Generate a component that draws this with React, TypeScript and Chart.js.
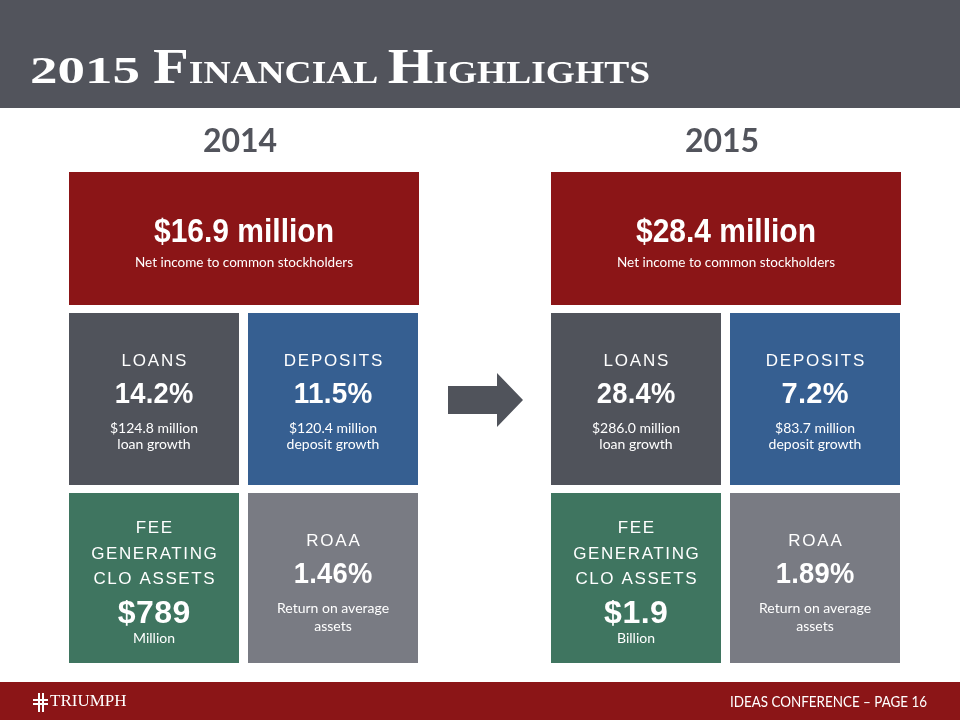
import React, { useEffect, useRef } from "react";
import { Chart, registerables } from "chart.js";

Chart.register(...registerables);

// ---------- data ----------
const titleText = ["2015", "Financial", "Highlights"];
const years = ["2014", "2015"];
const netIncome = ["$16.9 million", "$28.4 million"];
const netIncomeLabel = "Net income to common stockholders";
const loanPct = ["14.2%", "28.4%"];
const loanAmt = ["$124.8 million", "$286.0 million"];
const loanLabel = "loan growth";
const depositPct = ["11.5%", "7.2%"];
const depositAmt = ["$120.4 million", "$83.7 million"];
const depositLabel = "deposit growth";
const cloHeading = ["FEE", "GENERATING", "CLO ASSETS"];
const cloValue = ["$789", "$1.9"];
const cloUnit = ["Million", "Billion"];
const roaaValue = ["1.46%", "1.89%"];
const roaaLabel = ["Return on average", "assets"];
const footerText = "IDEAS CONFERENCE \u2013 PAGE 16";
const brandText = "TRIUMPH";

// ---------- styles ----------
const C = {
  header: "#52545c",
  red: "#8b1517",
  dark: "#50535b",
  blue: "#365f91",
  green: "#3f7560",
  gray: "#797b83",
  yearText: "#52545c",
  white: "#ffffff",
};
const SANS = "'Liberation Sans', Arial, sans-serif";
const CAL = "Lato, 'Open Sans', sans-serif";
const SERIF = "'Liberation Serif', 'DejaVu Serif', serif";

function text(
  ctx: CanvasRenderingContext2D,
  s: string,
  x: number,
  y: number,
  font: string,
  color: string,
  align: CanvasTextAlign = "center",
  spacing = 0,
  maxWidth?: number
) {
  ctx.save();
  ctx.font = font;
  ctx.fillStyle = color;
  ctx.textAlign = align;
  ctx.textBaseline = "alphabetic";
  (ctx as any).letterSpacing = spacing + "px";
  const xx = align === "center" ? x + spacing / 2 : x;
  if (maxWidth) {
    const w = ctx.measureText(s).width;
    if (w > maxWidth) {
      ctx.translate(xx, y);
      ctx.scale(maxWidth / w, 1);
      ctx.fillText(s, 0, 0);
      ctx.restore();
      return;
    }
  }
  ctx.fillText(s, xx, y);
  ctx.restore();
}

// draws a run of [text, font] segments, scaled to a target width
function run(
  ctx: CanvasRenderingContext2D,
  segs: [string, string][],
  x: number,
  y: number,
  width: number,
  color: string
) {
  ctx.save();
  ctx.fillStyle = color;
  ctx.textBaseline = "alphabetic";
  ctx.textAlign = "left";
  let total = 0;
  const ws = segs.map(([s, f]) => {
    ctx.font = f;
    const w = ctx.measureText(s).width;
    total += w;
    return w;
  });
  ctx.translate(x, y);
  ctx.scale(width / total, 1);
  let cx = 0;
  segs.forEach(([s, f], i) => {
    ctx.font = f;
    ctx.fillText(s, cx, 0);
    cx += ws[i];
  });
  ctx.restore();
}

function smallCaps(word: string, big: string, small: string): [string, string][] {
  return [
    [word[0].toUpperCase(), big],
    [word.slice(1).toUpperCase(), small],
  ];
}

const slidePlugin = {
  id: "slide",
  beforeDraw(chart: any) {
    const ctx: CanvasRenderingContext2D = chart.ctx;
    const W = chart.width;
    const H = chart.height;
    ctx.save();
    ctx.fillStyle = "#ffffff";
    ctx.fillRect(0, 0, W, H);

    // header band
    ctx.fillStyle = C.header;
    ctx.fillRect(0, 0, W, 108);
    const big = `bold 50px ${SERIF}`;
    const small = `bold 32px ${SERIF}`;
    run(ctx, [[titleText[0], `bold 38px ${SERIF}`]], 30, 83, 110, C.white);
    run(
      ctx,
      [
        ...smallCaps(titleText[1], big, small),
        [" ", small],
        ...smallCaps(titleText[2], big, small),
      ],
      153,
      83,
      497,
      C.white
    );

    // footer band
    ctx.fillStyle = C.red;
    ctx.fillRect(0, 682, W, H - 682);
    text(ctx, footerText, 927, 707, `15px ${CAL}`, C.white, "right", 0, 197);
    text(ctx, brandText, 50, 706, `17px ${SERIF}`, C.white, "left", 0, 78);
    // logo mark
    ctx.fillStyle = C.white;
    ctx.fillRect(38, 693, 2, 19);
    ctx.fillRect(42, 693, 2, 19);
    ctx.fillRect(33, 699, 15, 2);
    ctx.fillRect(33, 703, 15, 2);
    ctx.fillStyle = C.red;
    ctx.fillRect(40, 701, 2, 2);

    // arrow
    ctx.fillStyle = C.dark;
    ctx.beginPath();
    ctx.moveTo(448, 386);
    ctx.lineTo(497, 386);
    ctx.lineTo(497, 373);
    ctx.lineTo(523, 400);
    ctx.lineTo(497, 427);
    ctx.lineTo(497, 414);
    ctx.lineTo(448, 414);
    ctx.closePath();
    ctx.fill();

    // year groups
    const groupX = [69, 551];
    years.forEach((yr, i) => {
      const gx = groupX[i];
      const fullW = 350;
      const halfW = 170;
      const gap = 9;
      const cx = gx + fullW / 2;
      text(ctx, yr, cx - 4, 152, `bold 32px ${CAL}`, C.yearText);

      // top tile
      ctx.fillStyle = C.red;
      ctx.fillRect(gx, 172, fullW, 133);
      text(ctx, netIncome[i], cx, 242, `bold 33px ${SANS}`, C.white, "center", 0, 180);
      text(ctx, netIncomeLabel, cx, 267, `13.5px ${CAL}`, C.white, "center", 0, 222);

      const lx = gx;
      const rx = gx + halfW + gap;
      const lc = lx + halfW / 2;
      const rc = rx + halfW / 2;

      // middle row
      const my = 313;
      ctx.fillStyle = C.dark;
      ctx.fillRect(lx, my, halfW, 172);
      ctx.fillStyle = C.blue;
      ctx.fillRect(rx, my, halfW, 172);
      text(ctx, "LOANS", lc, my + 53, `17px ${SANS}`, C.white, "center", 1.8);
      text(ctx, loanPct[i], lc, my + 90, `bold 29px ${SANS}`, C.white, "center", 0.3, 79);
      text(ctx, loanAmt[i], lc, my + 120, `14px ${CAL}`, C.white);
      text(ctx, loanLabel, lc, my + 136, `14px ${CAL}`, C.white);
      text(ctx, "DEPOSITS", rc, my + 53, `17px ${SANS}`, C.white, "center", 1.8);
      text(ctx, depositPct[i], rc, my + 90, `bold 29px ${SANS}`, C.white, "center", 0.3, 79);
      text(ctx, depositAmt[i], rc, my + 120, `14px ${CAL}`, C.white);
      text(ctx, depositLabel, rc, my + 136, `14px ${CAL}`, C.white);

      // bottom row
      const by = 493;
      ctx.fillStyle = C.green;
      ctx.fillRect(lx, by, halfW, 170);
      ctx.fillStyle = C.gray;
      ctx.fillRect(rx, by, halfW, 170);
      cloHeading.forEach((h, k) => {
        text(ctx, h, lc, by + 40 + k * 25.5, `17px ${SANS}`, C.white, "center", 1.6);
      });
      text(ctx, cloValue[i], lc, by + 130, `bold 32px ${SANS}`, C.white, "center", 0.5);
      text(ctx, cloUnit[i], lc, by + 150, `14px ${CAL}`, C.white);
      text(ctx, "ROAA", rc, by + 53, `17px ${SANS}`, C.white, "center", 1.8);
      text(ctx, roaaValue[i], rc, by + 90, `bold 29px ${SANS}`, C.white, "center", 0.3, 79);
      text(ctx, roaaLabel[0], rc, by + 120, `14px ${CAL}`, C.white);
      text(ctx, roaaLabel[1], rc, by + 138, `14px ${CAL}`, C.white);
    });
    ctx.restore();
  },
};

export default function App() {
  const ref = useRef<HTMLCanvasElement | null>(null);
  useEffect(() => {
    if (!ref.current) return;
    const chart = new Chart(ref.current, {
      type: "bar",
      data: { labels: [], datasets: [] },
      options: {
        animation: false,
        responsive: false,
        devicePixelRatio: 1,
        layout: { padding: 0 },
        plugins: { legend: { display: false }, tooltip: { enabled: false }, title: { display: false } },
        scales: { x: { display: false }, y: { display: false } },
      },
      plugins: [slidePlugin],
    });
    return () => chart.destroy();
  }, []);
  return (
    <div style={{ position: "absolute", left: 0, top: 0, width: 960, height: 720 }}>
      <canvas ref={ref} width={960} height={720} style={{ display: "block" }} />
    </div>
  );
}
